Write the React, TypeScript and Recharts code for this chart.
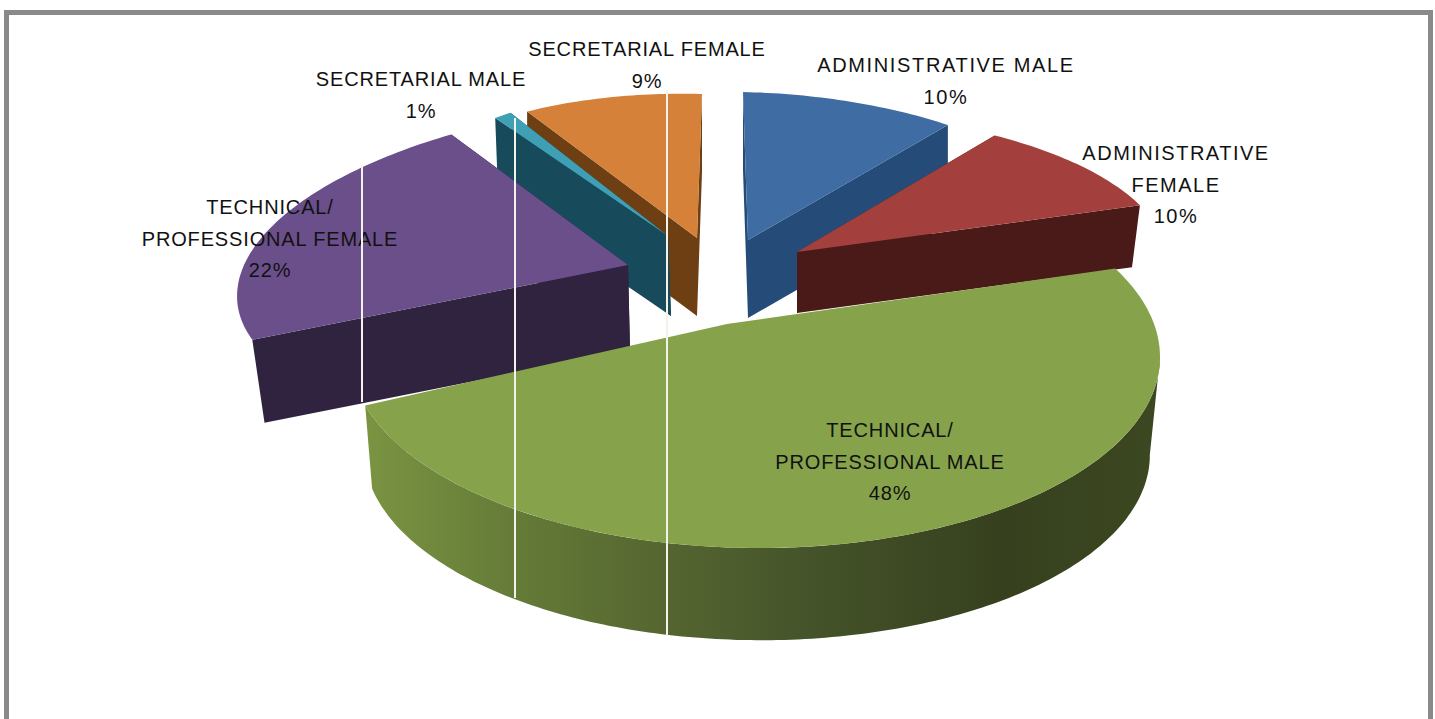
import { PieChart, Pie } from "recharts";

const sliceNames = [
  "ADMINISTRATIVE MALE",
  "ADMINISTRATIVE FEMALE",
  "TECHNICAL/ PROFESSIONAL MALE",
  "TECHNICAL/ PROFESSIONAL FEMALE",
  "SECRETARIAL MALE",
  "SECRETARIAL FEMALE",
];
const sliceValues = [10, 10, 48, 22, 1, 9];
const data = sliceNames.map((name, i) => ({ name, value: sliceValues[i] }));

// back to front, the pie is exploded so every slice is its own layer
const drawOrder = [0, 5, 4, 3, 1, 2];

// each slice is an exploded piece of a tilted disc: x = cx + a*sin + b*cos, y = cy + c*sin - d*cos
// the big front slice sits off centre in its ellipse (perspective), so it has its own apex and angle stretch
const looks: Record<string, any> = {
  "ADMINISTRATIVE MALE": { top: "#3f6ca3", wall: "#254c78", cx: 748, cy: 240, a: 347, b: -5, c: 8, d: 148, dx: 0, dy: 78, s: 1 },
  "ADMINISTRATIVE FEMALE": { top: "#a3403e", wall: "#4a1a18", cx: 797, cy: 252, a: 368, b: -23, c: -3, d: 142, dx: 0, dy: 61, s: 0.977 },
  "TECHNICAL/ PROFESSIONAL MALE": {
    top: "#86a34c", wall: "url(#greenRim)", cx: 755, cy: 355, a: 405, b: 0, c: 2, d: 193, dx: 2, dy: 98, s: 0.97,
    rim: true, apex: [727, 324], shift: -9.2, stretch: 1.108, rimFrom: 90, rimExtra: 4.2,
  },
  "TECHNICAL/ PROFESSIONAL FEMALE": { top: "#6a4f8a", wall: "#2f2340", cx: 628, cy: 265, a: 386, b: 62, c: -5, d: 165, dx: 2, dy: 85, s: 0.973 },
  "SECRETARIAL MALE": { top: "#3fa0b5", wall: "#174a5a", cx: 668, cy: 236, a: 294, b: 0, c: 0, d: 146, dx: 3, dy: 80, s: 1 },
  "SECRETARIAL FEMALE": { top: "#d5813a", wall: "#6f3f14", cx: 697, cy: 238, a: 325, b: 5, c: 9, d: 144, dx: 0, dy: 78, s: 1 },
};

const labelLines: Record<string, string[]> = {
  "ADMINISTRATIVE MALE": ["ADMINISTRATIVE MALE"],
  "ADMINISTRATIVE FEMALE": ["ADMINISTRATIVE", "FEMALE"],
  "TECHNICAL/ PROFESSIONAL MALE": ["TECHNICAL/", "PROFESSIONAL MALE"],
  "TECHNICAL/ PROFESSIONAL FEMALE": ["TECHNICAL/", "PROFESSIONAL FEMALE"],
  "SECRETARIAL MALE": ["SECRETARIAL MALE"],
  "SECRETARIAL FEMALE": ["SECRETARIAL FEMALE"],
};
const labelSpots: Record<string, number[]> = {
  "ADMINISTRATIVE MALE": [946, 72],
  "ADMINISTRATIVE FEMALE": [1176, 160],
  "TECHNICAL/ PROFESSIONAL MALE": [890, 437],
  "TECHNICAL/ PROFESSIONAL FEMALE": [270, 214],
  "SECRETARIAL MALE": [421, 86],
  "SECRETARIAL FEMALE": [647, 56],
};
const labelTracking: Record<string, number> = {
  "ADMINISTRATIVE MALE": 1.65,
  "ADMINISTRATIVE FEMALE": 1.5,
};

const scanLines = [
  { x: 361, from: 165, to: 402 },
  { x: 514, from: 118, to: 598 },
  { x: 666, from: 90, to: 636 },
];

const rad = (deg: number) => (deg * Math.PI) / 180;

const topPoint = (l: any, t: number) => [
  l.cx + l.a * Math.sin(rad(t)) + l.b * Math.cos(rad(t)),
  l.cy + l.c * Math.sin(rad(t)) - l.d * Math.cos(rad(t)),
];
const lowPoint = (l: any, t: number) => [
  l.cx + l.dx + l.s * (l.a * Math.sin(rad(t)) + l.b * Math.cos(rad(t))),
  l.cy + l.dy + l.s * (l.c * Math.sin(rad(t)) - l.d * Math.cos(rad(t))),
];
const toPath = (pts: number[][]) =>
  "M" + pts.map((p) => `${p[0].toFixed(1)},${p[1].toFixed(1)}`).join("L") + "Z";

const arcAngles = (t1: number, t2: number) => {
  const out: number[] = [];
  for (let t = t1; t < t2; t += 1) out.push(t);
  out.push(t2);
  return out;
};

// only one slice per Pie layer is drawn, so the stacking can differ from the data order
const sliceShape = (only: string) => (props: any) => {
  const name = props.name ?? props.payload?.name;
  if (name !== only) return <g />;
  const l = looks[name];
  const from = 90 - props.startAngle;
  const to = 90 - props.endAngle;
  const stretch = l.stretch ?? 1;
  const t1 = from + (l.shift ?? 0);
  const t2 = t1 + (to - from) * stretch;
  const angles = arcAngles(t1, t2);
  const apex = l.apex ?? [l.cx, l.cy];
  const apexLow = [l.cx + l.dx, l.cy + l.dy];
  const topFace = [apex, ...angles.map((t) => topPoint(l, t))];
  const wallFor = (t: number) => [apex, topPoint(l, t), lowPoint(l, t), apexLow];
  // rim starts at the widest point so its outline runs straight down from the top face
  const rimStart = l.rimFrom ?? t1;
  const rim = l.rim
    ? [
        ...arcAngles(rimStart, t2).map((t) => topPoint(l, t)),
        ...arcAngles(rimStart, t2 + l.rimExtra).reverse().map((t) => lowPoint(l, t)),
      ]
    : [];
  return (
    <g>
      {l.rim ? (
        <>
          <defs>
            <linearGradient id="greenRim" gradientUnits="userSpaceOnUse" x1="365" x2="1160" y1="0" y2="0">
              <stop offset="0" stopColor="#7a9442" />
              <stop offset="0.18" stopColor="#667c38" />
              <stop offset="0.38" stopColor="#556530" />
              <stop offset="0.55" stopColor="#45542a" />
              <stop offset="0.8" stopColor="#36401e" />
              <stop offset="1" stopColor="#3c4821" />
            </linearGradient>
          </defs>
          <path d={toPath(rim)} fill={l.wall} />
        </>
      ) : (
        <>
          <path d={toPath(wallFor(t2))} fill={l.wall} />
          <path d={toPath(wallFor(t1))} fill={l.wall} />
        </>
      )}
      <path d={toPath(topFace)} fill={l.top} />
    </g>
  );
};

const sliceLabel = (props: any) => {
  const name = props.name ?? props.payload?.name;
  const [x, y] = labelSpots[name];
  const lines = [...labelLines[name], `${Math.round(props.percent * 100)}%`];
  return (
    <text
      x={x}
      y={y}
      textAnchor="middle"
      fontFamily="'Liberation Sans', sans-serif"
      fontSize={20}
      letterSpacing={labelTracking[name] ?? 0.85}
      fill="#111"
    >
      {lines.map((line, i) => (
        <tspan key={i} x={x} y={y + i * 31.5}>
          {line}
        </tspan>
      ))}
    </text>
  );
};

const App = () => {
  return (
    <div style={{ position: "absolute", left: 0, top: 0, width: 1435, height: 719, overflow: "hidden", background: "#fff" }}>
      <div style={{ position: "absolute", left: 4, top: 10, width: 1419, height: 800, border: "5px solid #8a8a8a" }} />
      <div style={{ position: "absolute", left: 0, top: 0 }}>
        <PieChart width={1435} height={719} margin={{ top: 0, right: 0, bottom: 0, left: 0 }}>
          {drawOrder.map((idx, layer) => (
            <Pie
              key={idx}
              data={data}
              dataKey="value"
              nameKey="name"
              cx={760}
              cy={340}
              outerRadius={300}
              startAngle={90}
              endAngle={-270}
              stroke="none"
              isAnimationActive={false}
              shape={sliceShape(sliceNames[idx])}
              labelLine={false}
              label={layer === drawOrder.length - 1 ? sliceLabel : false}
            />
          ))}
        </PieChart>
      </div>
      {scanLines.map((l) => (
        <div
          key={l.x}
          style={{ position: "absolute", left: l.x, top: l.from, width: 2, height: l.to - l.from, background: "#f3f3ec" }}
        />
      ))}
    </div>
  );
};

export default App;
